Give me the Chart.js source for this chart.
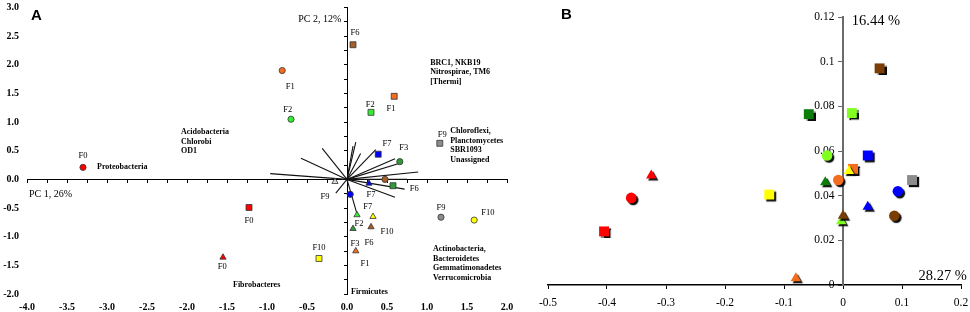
<!DOCTYPE html>
<html><head><meta charset="utf-8">
<script src="https://cdn.jsdelivr.net/npm/chart.js@4.4.1/dist/chart.umd.min.js"></script>
<style>
html,body{margin:0;padding:0;background:#fff;width:970px;height:312px;overflow:hidden}
#ca{position:absolute;left:0;top:0}
#cb{position:absolute;left:520px;top:0}
</style></head><body>
<canvas id="ca" width="520" height="312"></canvas>
<canvas id="cb" width="450" height="312"></canvas>
<script>
// ---------- DATA ----------
const groups = ['F0','F1','F2','F3','F6','F7','F9','F10'];

// Panel A (PCA biplot): sample scores
const aCircX = [-3.30, -0.81, -0.70, 0.66, 0.475, 0.04, 1.175, 1.59];
const aCircY = [ 0.21,  1.90,  1.05, 0.31, 0.00, -0.26, -0.66, -0.71];
const aSqX   = [-1.225, 0.59, 0.30, 0.575, 0.075, 0.39, 1.16, -0.35];
const aSqY   = [-0.49,  1.45, 1.17, -0.11, 2.35,  0.44, 0.63, -1.38];
const aTriX  = [-1.55, 0.11, 0.125, 0.075, 0.30, 0.275, -0.15, 0.325];
const aTriY  = [-1.36, -1.25, -0.62, -0.86, -0.83, -0.07, -0.04, -0.65];

// Panel A: loading vectors (end points)
const vecX = [-0.96, -0.575, -0.31, 0.11, 0.075, 0.17, 0.36, 0.60, 0.70, 0.89, 0.75, 0.72, 0.60, 0.125, -0.14];
const vecY = [ 0.10,  0.37,  0.54, 0.65, 0.58, 0.45, 0.52, 0.36, 0.30, 0.13, 0.00, -0.17, -0.31, -0.60, -0.24];

// Panel A axis tick labels
const aXTicks = [-4.0,-3.5,-3.0,-2.5,-2.0,-1.5,-1.0,-0.5,0.0,0.5,1.0,1.5,2.0];
const aYTicks = [-2.0,-1.5,-1.0,-0.5,0.0,0.5,1.0,1.5,2.0,2.5,3.0];

// Panel A annotations (text, x, y in data units)
const aPointLabels = [
  ['F0',-3.30,0.42],['F0',-1.225,-0.73],['F0',-1.56,-1.53],['F1',-0.71,1.62],['F2',-0.74,1.22],
  ['F6',0.10,2.56],['F1',0.55,1.24],['F2',0.29,1.31],['F7',0.50,0.63],['F3',0.71,0.56],
  ['F9',1.19,0.78],['F6',0.84,-0.17],['F7',0.30,-0.26],['F9',-0.275,-0.31],['F7',0.26,-0.47],
  ['F2',0.15,-0.77],['F10',0.50,-0.92],['F3',0.10,-1.115],['F6',0.275,-1.10],['F1',0.225,-1.48],
  ['F10',-0.35,-1.185],['F9',1.175,-0.49],['F10',1.76,-0.59]
];
const aTaxa = [
  [['Proteobacteria'], -3.125, 0.226],
  [['Acidobacteria','Chlorobi','OD1'], -2.075, 0.82],
  [['BRC1, NKB19','Nitrospirae, TM6','[Thermi]'], 1.04, 2.04],
  [['Chloroflexi,','Planctomycetes','SBR1093','Unassigned'], 1.29, 0.84],
  [['Actinobacteria,','Bacteroidetes','Gemmatimonadetes','Verrucomicrobia'], 1.075, -1.22],
  [['Fibrobacteres'], -1.425, -1.85],
  [['Firmicutes'], 0.05, -1.97]
];
const aAxisTitles = [['PC 2, 12%', -0.61, 2.80], ['PC 1, 26%', -3.975, -0.26]];

// Panel B: sample coordinates
const bCircX = [-0.359, -0.008, -0.027, null, 0.087, 0.093, null, null];
const bCircY = [ 0.039,  0.047,  0.058, null, 0.031, 0.042, null, null];
const bSqX   = [-0.405, 0.017, 0.015, -0.058, 0.062, 0.042, 0.117, -0.125];
const bSqY   = [ 0.024, 0.052, 0.077, 0.0765, 0.097, 0.058, 0.047, 0.0405];
const bTriX  = [-0.325, -0.080, -0.003, -0.030, 0.000, 0.042, null, 0.010];
const bTriY  = [ 0.049,  0.003,  0.0285, 0.046, 0.031, 0.035, null, 0.051];
const bXTicks = [-0.5,-0.4,-0.3,-0.2,-0.1,0,0.1,0.2];
const bYTicks = [0,0.02,0.04,0.06,0.08,0.1,0.12];
const bLabels = [['16.44 %', 0.015, 0.118], ['28.27 %', 0.128, 0.004]];

// ---------- STYLE ----------
const colA = ['#ff0000','#f26d1f','#33ee33','#2e9a3a','#a65f2a','#0000ff','#8c8c8c','#ffff00'];
const colB = ['#ff0000','#f26d1f','#80ff20','#0a7d0a','#7a3d06','#0000ff','#8c8c8c','#ffff00'];
const SERIF = '"Liberation Serif", "Times New Roman", serif';

function pts(xs, ys, cols, override){
  const data=[], bg=[];
  xs.forEach((x,i)=>{ if(x==null) return; data.push({x:x,y:ys[i]}); bg.push((override&&override[i])||cols[i]); });
  return {data, bg};
}
function markerSet(xs, ys, cols, style, r, bw, bc, override){
  const p = pts(xs, ys, cols, override);
  return {data:p.data, pointStyle:style, pointRadius:r, pointHoverRadius:r,
    pointBackgroundColor:p.bg, pointBorderColor:bc, pointBorderWidth:bw, showLine:false};
}
function noPad(s){ s.paddingTop=0; s.paddingBottom=0; s.paddingLeft=0; s.paddingRight=0; }

const textPlugin = {
  id:'txt',
  afterDraw(chart, args, opts){
    const ctx = chart.ctx, xs = chart.scales.x, ys = chart.scales.y;
    ctx.save();
    ctx.fillStyle = '#000';
    ctx.textBaseline = 'middle';
    (opts.items||[]).forEach(it=>{
      ctx.font = it.font; ctx.textAlign = it.align||'left';
      const px = xs.getPixelForValue(it.x), py = ys.getPixelForValue(it.y);
      it.lines.forEach((l,k)=> ctx.fillText(l, px, py + k*(it.lh||0)));
    });
    ctx.restore();
  }
};
const shadowPlugin = {
  id:'shadow',
  beforeDatasetsDraw(chart){ const c=chart.ctx; c.save(); c.shadowColor='rgba(0,0,0,0.95)'; c.shadowOffsetX=2; c.shadowOffsetY=2; c.shadowBlur=1; },
  afterDatasetsDraw(chart){ chart.ctx.restore(); }
};

// ---------- PANEL A ----------
const aItems = [];
aPointLabels.forEach(l=>aItems.push({lines:[l[0]], x:l[1], y:l[2], font:'8.5px '+SERIF, align:'center'}));
aTaxa.forEach(t=>aItems.push({lines:t[0], x:t[1], y:t[2], lh:9.5, font:'bold 8px '+SERIF}));
aAxisTitles.forEach(t=>aItems.push({lines:[t[0]], x:t[1], y:t[2], font:'10px '+SERIF}));
aItems.push({lines:['A'], x:-3.95, y:2.857, font:'bold 15px "Liberation Sans", Arial, sans-serif'});

const aDatasets = [
  markerSet(aTriX, aTriY, colA, 'triangle', 3.6, 0.8, '#333', {6:'#dcdcdc'}),
  markerSet(aSqX, aSqY, colA, 'rect', 4.2, 0.8, '#333'),
  markerSet(aCircX, aCircY, colA, 'circle', 3.1, 0.8, '#333')
];
vecX.forEach((vx,i)=>aDatasets.push({data:[{x:0,y:0},{x:vx,y:vecY[i]}], showLine:true, pointRadius:0,
  borderColor:'#111', borderWidth:1.1}));

const fmt1 = v => Number(v).toFixed(1);
new Chart(document.getElementById('ca'), {
  type:'scatter',
  data:{datasets:aDatasets},
  options:{
    responsive:false, animation:false, events:[],
    layout:{padding:{left:0,right:13,top:7.5,bottom:0}},
    plugins:{legend:{display:false}, tooltip:{enabled:false}, txt:{items:aItems}},
    scales:{
      x:{type:'linear', position:'bottom', min:aXTicks[0], max:aXTicks[aXTicks.length-1],
        afterBuildTicks:s=>{s.ticks=aXTicks.map(v=>({value:v}));},
        ticks:{callback:fmt1, font:{family:SERIF, size:10, weight:'bold'}, color:'#000', padding:7, maxRotation:0, autoSkip:false},
        grid:{display:false, drawTicks:false}, border:{display:false},
        afterFit:s=>{s.height=18; noPad(s);}},
      y:{type:'linear', position:'left', min:aYTicks[0], max:aYTicks[aYTicks.length-1],
        afterBuildTicks:s=>{s.ticks=aYTicks.map(v=>({value:v}));},
        ticks:{callback:fmt1, font:{family:SERIF, size:10, weight:'bold'}, color:'#000', padding:8, autoSkip:false},
        grid:{display:false, drawTicks:false}, border:{display:false},
        afterFit:s=>{s.width=27; noPad(s);}},
      x2:{type:'linear', position:{y:0}, min:-4, max:2, ticks:{display:false, stepSize:0.25},
        grid:{drawOnChartArea:false, drawTicks:true, tickLength:3, color:'#000'}, border:{display:true, color:'#000', width:1},
        afterFit:noPad},
      y2:{type:'linear', position:{x:0}, min:-2, max:3, ticks:{display:false, stepSize:0.25},
        grid:{drawOnChartArea:false, drawTicks:true, tickLength:3, color:'#000'}, border:{display:true, color:'#000', width:1},
        afterFit:noPad}
    }
  },
  plugins:[textPlugin]
});

// ---------- PANEL B ----------
const bItems = [];
bLabels.forEach(l=>bItems.push({lines:[l[0]], x:l[1], y:l[2], font:'14.5px '+SERIF}));
bItems.push({lines:['B'], x:-0.478, y:0.1208, font:'bold 15px "Liberation Sans", Arial, sans-serif'});

const fmtB = v => String(Number(Number(v).toFixed(2)));
new Chart(document.getElementById('cb'), {
  type:'scatter',
  data:{datasets:[
    markerSet(bTriX, bTriY, colB, 'triangle', 6, 0, 'rgba(0,0,0,0)'),
    markerSet(bCircX, bCircY, colB, 'circle', 5.3, 0, 'rgba(0,0,0,0)'),
    markerSet(bSqX, bSqY, colB, 'rect', 7, 0, 'rgba(0,0,0,0)')
  ]},
  options:{
    responsive:false, animation:false, events:[],
    layout:{padding:{left:28,right:9,top:17,bottom:0}},
    plugins:{legend:{display:false}, tooltip:{enabled:false}, txt:{items:bItems}},
    scales:{
      x:{type:'linear', position:'bottom', min:bXTicks[0], max:bXTicks[bXTicks.length-1],
        afterBuildTicks:s=>{s.ticks=bXTicks.map(v=>({value:v}));},
        ticks:{callback:fmtB, font:{family:SERIF, size:11.5}, color:'#000', padding:7, maxRotation:0, autoSkip:false},
        grid:{drawOnChartArea:false, drawTicks:true, tickLength:4, color:'#000'}, border:{display:true, color:'#000', width:1.5},
        afterFit:s=>{s.height=27; noPad(s);}},
      y:{type:'linear', position:{x:0}, min:bYTicks[0], max:bYTicks[bYTicks.length-1],
        afterBuildTicks:s=>{s.ticks=bYTicks.map(v=>({value:v}));},
        ticks:{callback:v => fmtB(v) + '   ', font:{family:SERIF, size:11.5}, color:'#000', padding:4, autoSkip:false},
        grid:{drawOnChartArea:false, drawTicks:true, tickLength:4, color:'#666'}, border:{display:true, color:'#6b6b6b', width:2},
        afterFit:noPad}
    }
  },
  plugins:[textPlugin, shadowPlugin]
});
</script>
</body></html>
